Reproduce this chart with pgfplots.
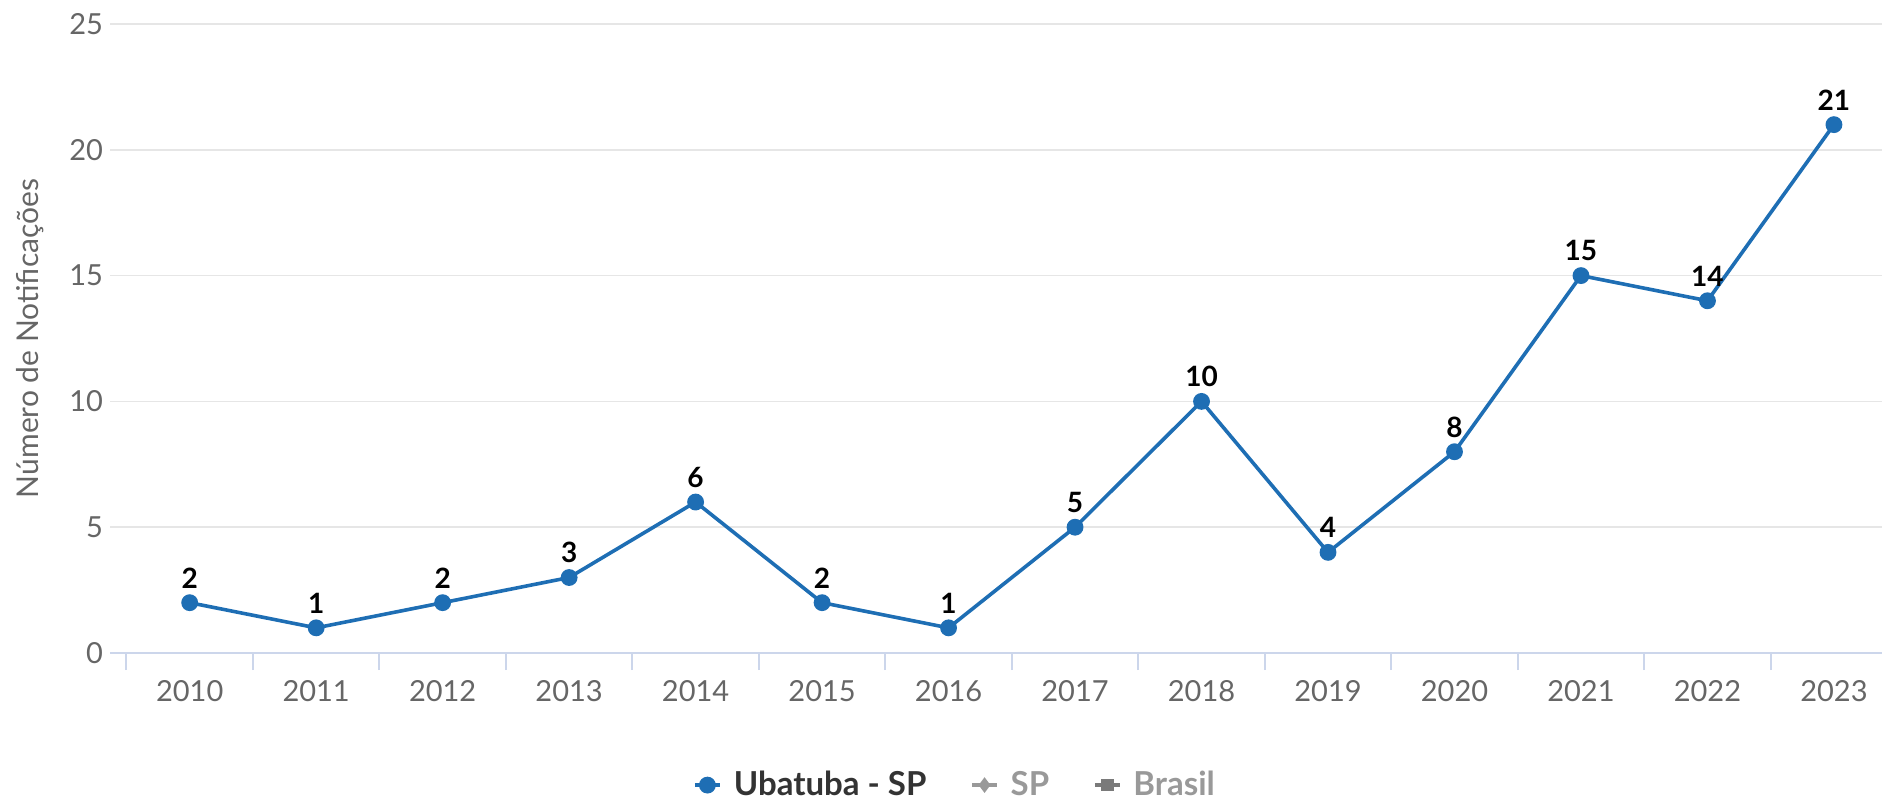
\documentclass[border=0pt]{standalone}
\usepackage{fontspec}
\setmainfont{Lato}
\usepackage{pgfplots}
\pgfplotsset{compat=1.18}
\definecolor{ublue}{RGB}{30,110,180}
\definecolor{axisc}{RGB}{204,214,235}
\definecolor{gridc}{RGB}{230,230,230}
\definecolor{tickt}{RGB}{102,102,102}
\definecolor{leggray}{RGB}{153,153,153}
\begin{document}
\begin{tikzpicture}
\path[use as bounding box] (0,0) rectangle (946pt,402.5pt);
\begin{axis}[
  at={(55pt,76pt)}, anchor=south west,
  scale only axis, width=886pt, height=314.5pt,
  xmin=-0.63, xmax=13.38, ymin=0, ymax=25,
  axis x line*=bottom, axis y line*=left,
  x axis line style={draw=axisc, line width=1pt},
  y axis line style={draw=none},
  xtick={0,...,13},
  xticklabels={2010,2011,2012,2013,2014,2015,2016,2017,2018,2019,2020,2021,2022,2023},
  minor xtick={-0.5,0.5,...,12.5},
  major tick length=0pt, minor tick length=8.5pt,
  tick align=outside,
  minor tick style={draw=axisc, line width=1pt},
  ytick={0,5,...,25},
  ytick style={draw=none},
  ymajorgrids, grid style={draw=gridc, line width=0.8pt},
  xticklabel style={font=\fontsize{14.5}{17}\selectfont, text=tickt, yshift=-10pt},
  yticklabel style={font=\fontsize{14.5}{17}\selectfont, text=tickt},
  /pgf/number format/assume math mode=true,
  ylabel={Número de Notificações},
  every axis y label/.style={at={(rel axis cs:-0.0451,0.5)}, rotate=90, anchor=center,
    font=\fontsize{15}{18}\selectfont, text=tickt},
  clip=false,
  legend columns=3,
  legend style={at={(0.4774,-0.21)}, anchor=center, draw=none, fill=none,
    font=\fontsize{16.5}{19}\selectfont\bfseries, column sep=4pt,
    /tikz/every even column/.append style={column sep=20pt}},
  legend cell align=left,
]
\addplot[ublue, line width=1.8pt, mark=*, mark size=3.3pt, mark options={fill=ublue, draw=ublue},
  nodes near coords,
  every node near coord/.style={font=\fontsize{14}{16}\selectfont\bfseries, text=black, yshift=3pt},
  legend image code/.code={\draw[mark repeat=2,mark phase=2] plot coordinates {(0cm,0cm)(0.22cm,0cm)(0.44cm,0cm)};}]
coordinates {(0,2) (1,1) (2,2) (3,3) (4,6) (5,2) (6,1) (7,5) (8,10) (9,4) (10,8) (11,15) (12,14) (13,21)};
\addlegendentry{\textcolor[RGB]{51,51,51}{Ubatuba - SP}}
\addlegendimage{leggray, line width=1.6pt, mark=diamond*, mark size=2.6pt,
  legend image code/.code={\draw[mark repeat=2,mark phase=2] plot coordinates {(0cm,0cm)(0.22cm,0cm)(0.44cm,0cm)};}}
\addlegendentry{\textcolor{leggray}{SP}}
\addlegendimage{leggray!80!black, line width=1.6pt, mark=square*, mark size=2.3pt,
  legend image code/.code={\draw[mark repeat=2,mark phase=2] plot coordinates {(0cm,0cm)(0.22cm,0cm)(0.44cm,0cm)};}}
\addlegendentry{\textcolor{leggray}{Brasil}}
\end{axis}
\end{tikzpicture}
\end{document}
